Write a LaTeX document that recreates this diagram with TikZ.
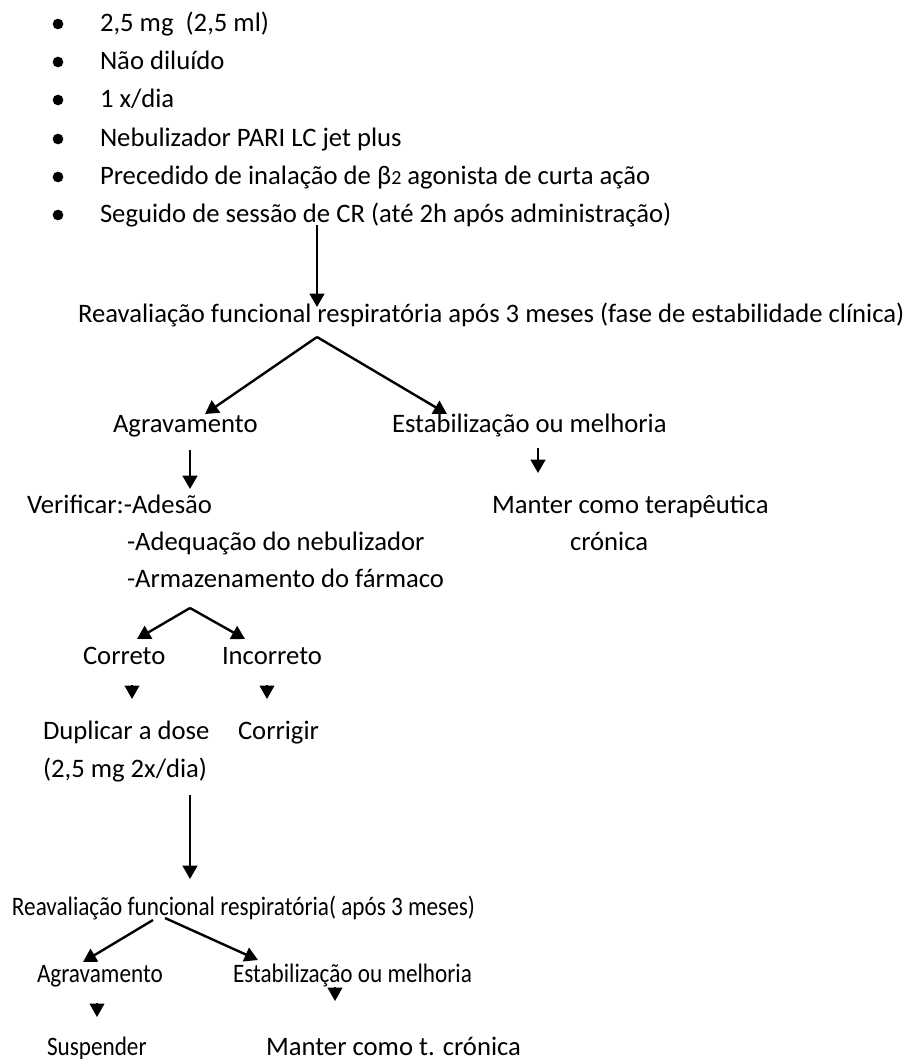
\documentclass[tikz,border=0pt]{standalone}
\usepackage{fontspec}
\setmainfont{Carlito}
\newfontfamily\narrowfont[FakeStretch=0.87]{Carlito}
\usetikzlibrary{arrows.meta}
\tikzset{
  txt/.style={anchor=base west, inner sep=0pt, outer sep=0pt, font=\fontsize{20}{24}\selectfont},
  ntxt/.style={txt, font=\fontsize{20}{24}\selectfont\narrowfont},
  bul/.style={circle, fill=black, inner sep=0pt, minimum size=8pt},
  conn/.style={line width=1.8pt, -{Triangle[length=10pt, width=11pt]}},
  tiponly/.style={line width=1pt, -{Triangle[length=10pt, width=11pt]}},
}
\newcommand{\betatwo}{β{\fontsize{15}{18}\selectfont 2}}
\begin{document}
\begin{tikzpicture}[x=0.75pt, y=-0.75pt]
\useasboundingbox (0,0) rectangle (908,1059);

% list of dosing instructions
\foreach \yy in {32,70,108,147,185,223} \node[bul] at (58,\yy-8) {};
\node[txt] (b1) at (100,32) {2,5 mg\ \ (2,5 ml)};
\node[txt] (b2) at (100,70) {Não diluído};
\node[txt] (b3) at (100,108) {1 x/dia};
\node[txt] (b4) at (100,147) {Nebulizador PARI LC jet plus};
\node[txt] (b5) at (100,185) {Precedido de inalação de \betatwo{} agonista de curta ação};
\node[txt] (b6) at (100,223) {Seguido de sessão de CR (até 2h após administração)};

% first reassessment
\node[txt] (r1) at (78,322) {Reavaliação funcional respiratória após 3 meses (fase de estabilidade clínica)};
\node[txt] (ag1) at (113,432) {Agravamento};
\node[txt] (es1) at (392,432) {Estabilização ou melhoria};
\node[txt] (ve1) at (27,513) {Verificar:-Adesão};
\node[txt] (ve2) at (127,550) {-Adequação do nebulizador};
\node[txt] (ve3) at (127,587) {-Armazenamento do fármaco};
\node[txt] (mt1) at (492,513) {Manter como terapêutica};
\node[txt] (mt2) at (570,550) {crónica};

% checks
\node[txt] (co) at (83,664) {Correto};
\node[txt] (inc) at (222,664) {Incorreto};
\node[txt] (du1) at (43,739) {Duplicar a dose};
\node[txt] (du2) at (43,777) {(2,5 mg 2x/dia)};
\node[txt] (cg) at (238,739) {Corrigir};

% second reassessment
\node[ntxt] (r2) at (12,915) {Reavaliação funcional respiratória( após 3 meses)};
\node[ntxt] (ag2) at (37,982) {Agravamento};
\node[ntxt] (es2) at (233,982) {Estabilização ou melhoria};
\node[ntxt] (su) at (47,1055) {Suspender};
\node[txt] (mt3) at (266,1055) {Manter como t. crónica};

% connector end points
\coordinate (a0) at (317,225);
\coordinate (a1) at (317,307);
\coordinate (f1) at (317,337);
\coordinate (f1l) at (205,414);
\coordinate (f1r) at (447,414);
\coordinate (d1a) at (190,450);
\coordinate (d1b) at (190,489);
\coordinate (s1a) at (538,448);
\coordinate (s1b) at (538,473);
\coordinate (f2) at (190,608);
\coordinate (f2l) at (137,639);
\coordinate (f2r) at (245,639);
\coordinate (t1a) at (132,685);
\coordinate (t1b) at (132,699);
\coordinate (t2a) at (267,685);
\coordinate (t2b) at (267,699);
\coordinate (la) at (190,795);
\coordinate (lb) at (190,879);
\coordinate (g3a) at (153,920);
\coordinate (g3l) at (83,962);
\coordinate (g3b) at (165,918);
\coordinate (g3r) at (258,960);
\coordinate (t3a) at (97,1003);
\coordinate (t3b) at (97,1017);
\coordinate (t4a) at (335,987);
\coordinate (t4b) at (335,1001);

% arrows
\draw[conn] (a0) -- (a1);
\draw[conn] (f1) -- (f1l);
\draw[conn] (f1) -- (f1r);
\draw[conn] (d1a) -- (d1b);
\draw[conn] (s1a) -- (s1b);
\draw[conn] (f2) -- (f2l);
\draw[conn] (f2) -- (f2r);
\draw[tiponly] (t1a) -- (t1b);
\draw[tiponly] (t2a) -- (t2b);
\draw[conn] (la) -- (lb);
\draw[conn] (g3a) -- (g3l);
\draw[conn] (g3b) -- (g3r);
\draw[tiponly] (t3a) -- (t3b);
\draw[tiponly] (t4a) -- (t4b);
\end{tikzpicture}
\end{document}
